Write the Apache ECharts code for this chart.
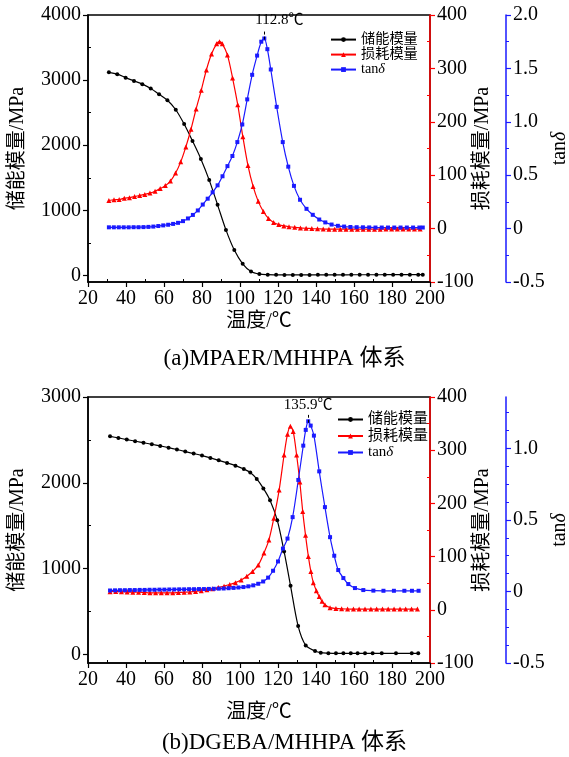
<!DOCTYPE html>
<html>
<head>
<meta charset="utf-8">
<script src="https://cdn.jsdelivr.net/npm/echarts@6/dist/echarts.min.js"></script>
<style>
  html, body { margin: 0; padding: 0; background: #fff; }
  #chart { width: 569px; height: 757px; }
</style>
</head>
<body>
<div id="chart"></div>
<script>
  // ---- (a) MPAER/MHHPA ----
  var tempA_storage = [31, 35.4, 39.8, 44.2, 48.6, 53, 57.4, 61.8, 66.2, 70.6, 75, 79.4, 83.8, 88.2, 92.6, 97, 101.4, 105.8, 110.2, 114.6, 119, 123.4, 127.8, 132.2, 136.6, 141, 145.4, 149.8, 154.2, 158.6, 163, 167.4, 171.8, 176.2, 180.6, 185, 189.4, 193.8, 196.2]
  var storageA = [3120, 3092, 3038, 2988, 2938, 2870, 2783, 2690, 2545, 2325, 2065, 1790, 1465, 1085, 700, 390, 180, 62, 22, 12, 10, 9, 9, 9, 9, 10, 10, 10, 10, 11, 11, 11, 11, 12, 12, 12, 12, 12, 12]

  var tempA_loss = [31, 33.7, 36.4, 39.1, 41.8, 44.5, 47.2, 49.9, 52.6, 55.3, 58, 60.7, 63.4, 66.1, 68.8, 71.5, 74.2, 76.9, 79.6, 82.3, 85, 87.7, 89.2, 90.7, 93.4, 96.1, 98.8, 101.5, 104.2, 106.9, 109.6, 112.3, 115, 117.7, 120.4, 123.1, 125.8, 128.8, 131.8, 134.8, 137.8, 140.8, 143.8, 146.8, 149.8, 152.8, 155.8, 158.8, 161.8, 164.8, 167.8, 170.8, 173.8, 176.8, 179.8, 182.8, 185.8, 188.8, 191.8, 194.8]
  var lossA = [52.6, 54, 54.5, 57, 58, 60, 62, 64, 66.5, 70, 75, 80.5, 89, 104, 125, 153, 186, 224, 259, 297, 327, 346, 350, 346, 325, 282, 232, 172, 118, 79, 51, 32, 19, 11.5, 7.5, 5, 3.5, 2.3, 1.3, 0.6, 0, -0.5, -0.8, -1, -1, -1, -1, -1, -1, -1, -1, -1, -1, -0.8, -0.8, -0.8, -0.8, -0.8, -0.8, -0.8]

  var tempA_tan = [31, 33.6, 36.2, 38.8, 41.4, 44, 46.6, 49.2, 51.8, 54.4, 57, 59.6, 62.2, 64.8, 67.4, 70, 72.6, 75.2, 77.8, 80.4, 83, 85.6, 88.2, 90.8, 93.4, 96, 98.6, 101.2, 103.8, 106.4, 109, 111.2, 112.8, 114.4, 116.2, 119.3, 122.5, 125.4, 128.4, 131.6, 135, 138.3, 141.7, 144.9, 148.2, 151.5, 154.8, 158.1, 161.4, 164.7, 168, 171.3, 174.6, 177.9, 181.2, 184.5, 187.8, 191.1, 194.4, 196.2]
  var tanA = [0.012, 0.012, 0.012, 0.012, 0.012, 0.013, 0.013, 0.014, 0.016, 0.019, 0.024, 0.03, 0.036, 0.044, 0.054, 0.07, 0.095, 0.128, 0.17, 0.225, 0.28, 0.34, 0.405, 0.49, 0.585, 0.68, 0.81, 0.975, 1.21, 1.44, 1.62, 1.75, 1.78, 1.68, 1.49, 1.14, 0.81, 0.58, 0.40, 0.27, 0.185, 0.129, 0.085, 0.058, 0.038, 0.026, 0.019, 0.015, 0.013, 0.012, 0.011, 0.01, 0.01, 0.01, 0.01, 0.01, 0.01, 0.01, 0.01, 0.01]

  // ---- (b) DGEBA/MHHPA ----
  var tempB_storage = [31.6, 36, 40.4, 44.8, 49.2, 53.6, 58, 62.4, 66.8, 71.2, 75.6, 80, 84.4, 88.8, 93.2, 97.6, 102, 105.4, 108.8, 112.3, 115.8, 119.6, 123.2, 126.6, 130.6, 134.6, 139.5, 142.5, 146.5, 150.5, 154.4, 158.3, 161.9, 165.8, 169.8, 174.6, 182.1, 190.4, 193.8]
  var storageB = [2542, 2523, 2504, 2484, 2467, 2449, 2430, 2410, 2388, 2364, 2341, 2317, 2290, 2262, 2232, 2200, 2160, 2120, 2045, 1935, 1797, 1565, 1200, 800, 330, 105, 40, 20, 15, 13, 13, 13, 13, 13, 13, 13, 13, 13, 13]

  var tempB_loss = [31.6, 34.6, 37.6, 40.6, 43.6, 46.6, 49.6, 52.6, 55.6, 58.6, 61.6, 64.6, 67.6, 70.6, 73.6, 76.6, 79.6, 82.6, 85.6, 88.6, 91.6, 94.6, 97.6, 100.6, 103.6, 106.6, 109.6, 112.6, 115.2, 117.8, 120.6, 123.2, 125, 126.5, 128, 129.8, 131.5, 133, 134.5, 136, 137.3, 138.6, 140.2, 141.7, 143.2, 144.7, 147.4, 150.5, 153.5, 156.6, 159.7, 162.7, 165.8, 168.9, 171.9, 175, 178, 181.1, 184.2, 187.2, 190.3, 193.4]
  var lossB = [34, 34.5, 34, 33.5, 33, 33, 32.5, 32, 32, 32, 32, 32, 32.5, 33, 33.5, 34.5, 36, 37.5, 39.5, 42, 44.5, 47.5, 51, 56, 63, 72, 84, 107, 131, 172, 225, 291, 330, 345, 335, 291, 240, 185, 140, 100, 72, 51, 36, 25, 16, 9.5, 4, 2.5, 1.8, 1.5, 1.3, 1.3, 1.3, 1.3, 1.3, 1.3, 1.3, 1.3, 1.3, 1.3, 1.3, 1.3]

  var tempB_tan = [31.6, 34.2, 36.8, 39.4, 42, 44.6, 47.2, 49.8, 52.4, 55, 57.6, 60.2, 62.8, 65.4, 68, 70.6, 73.2, 75.8, 78.4, 81, 83.6, 86.2, 88.8, 91.4, 94, 96.6, 99.2, 101.8, 104.4, 107, 109.6, 112.2, 114.8, 117.4, 120, 122.6, 125, 127.7, 130.7, 133.3, 134.6, 135.9, 137.2, 138.9, 141.7, 144.7, 147.4, 149.6, 151.7, 154.4, 157, 160.5, 164.9, 170.2, 175.5, 181, 186.5, 190.5, 194]
  var tanB = [0.007, 0.008, 0.009, 0.009, 0.01, 0.01, 0.011, 0.011, 0.012, 0.012, 0.013, 0.013, 0.014, 0.014, 0.015, 0.015, 0.016, 0.016, 0.017, 0.017, 0.018, 0.019, 0.02, 0.021, 0.023, 0.025, 0.028, 0.031, 0.036, 0.043, 0.054, 0.07, 0.097, 0.145, 0.21, 0.30, 0.37, 0.52, 0.78, 1.02, 1.13, 1.19, 1.16, 1.09, 0.84, 0.59, 0.38, 0.25, 0.15, 0.094, 0.052, 0.024, 0.01, 0.006, 0.005, 0.005, 0.005, 0.005, 0.005]

  // ticks
  var xMinor = [30, 50, 70, 90, 110, 130, 150, 170, 190]
  var leftTicksA = [0, 1000, 2000, 3000, 4000]
  var leftMinorA = [500, 1500, 2500, 3500]
  var leftTicksB = [0, 1000, 2000, 3000]
  var leftMinorB = [500, 1500, 2500]
  var redTicks = [-100, 0, 100, 200, 300, 400]
  var redMinor = [-50, 50, 150, 250, 350]
  var tanTicksA = [-0.5, 0, 0.5, 1.0, 1.5, 2.0]
  var tanMinorA = [-0.25, 0.25, 0.75, 1.25, 1.75]
  var tanTicksB = [-0.5, 0, 0.5, 1.0]
  var tanMinorB = [-0.375, -0.25, -0.125, 0.125, 0.25, 0.375, 0.625, 0.75, 0.875, 1.125, 1.25]

  var names = ['储能模量', '损耗模量', 'tanδ']
  var peakA = 112.8
  var peakB = 135.9

  var SERIF = '"Liberation Serif", "Noto Sans CJK SC", serif'
  var RED = '#ff0000'
  var BLUE = '#1a1aff'
  var TICK_FONT = 20
  var NAME_FONT = 20

  function pairs(t, v) {
    return t.map(function (x, i) { return [x, v[i]] })
  }
  function fmtTan(v) {
    return v === 0 ? '0' : v.toFixed(1)
  }

  // main axis + a twin that only carries the short minor ticks
  function yPair(grid, o) {
    var main = {
      type: 'value', gridIndex: grid, position: o.pos, offset: o.offset || 0,
      min: o.min, max: o.max,
      splitLine: { show: false },
      axisLine: { show: true, onZero: false, lineStyle: { color: o.color, width: 1.5 } },
      axisTick: { show: true, length: 5, customValues: o.ticks, lineStyle: { color: o.color, width: 1.2 } },
      axisLabel: { customValues: o.ticks, color: '#000', fontSize: TICK_FONT, fontFamily: SERIF, margin: 7, formatter: o.fmt || function (v) { return String(v) } },
      name: o.name, nameLocation: 'middle', nameGap: o.gap, nameMoveOverlap: false,
      nameTextStyle: { color: '#000', fontSize: NAME_FONT, fontFamily: SERIF, rich: o.rich }
    }
    var minor = {
      type: 'value', gridIndex: grid, position: o.pos, offset: o.offset || 0,
      min: o.min, max: o.max,
      splitLine: { show: false },
      axisLine: { show: false, onZero: false },
      axisTick: { show: true, inside: o.minorInside, length: 3, customValues: o.minor, lineStyle: { color: o.color, width: 1 } },
      axisLabel: { show: false }
    }
    return [main, minor]
  }
  function xPair(grid, gap) {
    return [{
      type: 'value', gridIndex: grid, position: 'bottom', min: 20, max: 200, interval: 20,
      splitLine: { show: false },
      axisLine: { onZero: false, lineStyle: { color: '#000', width: 1.5 } },
      axisTick: { length: 5, lineStyle: { color: '#000', width: 1.2 } },
      axisLabel: { color: '#000', fontSize: TICK_FONT, fontFamily: SERIF, margin: 7 },
      name: '温度/℃', nameLocation: 'middle', nameGap: gap, nameMoveOverlap: false,
      nameTextStyle: { color: '#000', fontSize: NAME_FONT, fontFamily: SERIF }
    }, {
      type: 'value', gridIndex: grid, position: 'bottom', min: 20, max: 200,
      splitLine: { show: false },
      axisLine: { show: false, onZero: false },
      axisTick: { inside: true, length: 3, customValues: xMinor, lineStyle: { color: '#000', width: 1 } },
      axisLabel: { show: false }
    }]
  }

  var tanRich = { i: { fontStyle: 'italic', fontSize: NAME_FONT, fontFamily: SERIF, color: '#000' } }

  var yAxes = [].concat(
    yPair(0, { pos: 'left', min: -100, max: 4000, color: '#000', ticks: leftTicksA, minor: leftMinorA, minorInside: true, name: '储能模量/MPa', gap: 60 }),
    yPair(0, { pos: 'right', min: -100, max: 400, color: RED, ticks: redTicks, minor: redMinor, minorInside: true, name: '损耗模量/MPa', gap: 43 }),
    yPair(0, { pos: 'right', offset: 76, min: -0.5, max: 2.0, color: BLUE, ticks: tanTicksA, minor: tanMinorA, minorInside: false, fmt: fmtTan, name: 'tan{i|δ}', gap: 44, rich: tanRich }),
    yPair(1, { pos: 'left', min: -100, max: 3000, color: '#000', ticks: leftTicksB, minor: leftMinorB, minorInside: true, name: '储能模量/MPa', gap: 60 }),
    yPair(1, { pos: 'right', min: -100, max: 400, color: RED, ticks: redTicks, minor: redMinor, minorInside: true, name: '损耗模量/MPa', gap: 43 }),
    yPair(1, { pos: 'right', offset: 76, min: -0.5, max: 1.36, color: BLUE, ticks: tanTicksB, minor: tanMinorB, minorInside: false, fmt: fmtTan, name: 'tan{i|δ}', gap: 44, rich: tanRich })
  )

  function line(name, xIdx, yIdx, data, color, symbol, size, extra) {
    var s = {
      name: name, type: 'line', xAxisIndex: xIdx, yAxisIndex: yIdx,
      data: data, smooth: 0.3, showAllSymbol: true,
      symbol: symbol, symbolSize: size,
      lineStyle: { color: color, width: 1.2 },
      itemStyle: { color: color }
    }
    return Object.assign(s, extra || {})
  }
  function peakMark(t, y0, y1, pad) {
    return {
      markLine: {
        silent: true, symbol: ['none', 'none'],
        lineStyle: { color: '#000', type: [3, 2], width: 1 },
        label: { show: true, position: 'end', distance: 2, formatter: t + '℃', color: '#000', fontSize: 15, fontFamily: SERIF, padding: pad },
        data: [[{ coord: [t, y0] }, { coord: [t, y1] }]]
      }
    }
  }

  function legendAt(left, top, gap, size) {
    return {
      orient: 'vertical', left: left, top: top, padding: 0,
      itemWidth: 25, itemHeight: 6, itemGap: gap,
      data: names,
      formatter: function (n) { return n === 'tanδ' ? 'tan{i|δ}' : n },
      textStyle: { color: '#000', fontSize: size, fontFamily: SERIF,
        rich: { i: { fontStyle: 'italic', fontSize: size, fontFamily: SERIF } } }
    }
  }

  var option = {
    animation: false,
    backgroundColor: '#fff',
    title: [
      { text: '(a)MPAER/MHHPA 体系', left: 'center', top: 347, padding: 0, textStyle: { color: '#000', fontSize: 23, fontWeight: 'normal', fontFamily: SERIF } },
      { text: '(b)DGEBA/MHHPA 体系', left: 'center', top: 731, padding: 0, textStyle: { color: '#000', fontSize: 23, fontWeight: 'normal', fontFamily: SERIF } }
    ],
    legend: [legendAt(330, 32.5, 0.8, 14.2), legendAt(337, 412, 1.5, 15)],
    grid: [
      { left: 88, top: 15, width: 342, height: 267, outerBoundsMode: 'none', show: true, borderColor: '#000', borderWidth: 1.5 },
      { left: 88, top: 397, width: 342, height: 266, outerBoundsMode: 'none', show: true, borderColor: '#000', borderWidth: 1.5 }
    ],
    xAxis: [].concat(xPair(0, 30), xPair(1, 40)),
    yAxis: yAxes,
    series: [
      line(names[0], 0, 0, pairs(tempA_storage, storageA), '#000', 'circle', 4),
      line(names[1], 0, 2, pairs(tempA_loss, lossA), RED, 'triangle', 5),
      line(names[2], 0, 4, pairs(tempA_tan, tanA), BLUE, 'rect', 4, peakMark(peakA, 1.77, 1.86, [0, 0, 0, 30])),
      line(names[0], 2, 6, pairs(tempB_storage, storageB), '#000', 'circle', 4),
      line(names[1], 2, 8, pairs(tempB_loss, lossB), RED, 'triangle', 5),
      line(names[2], 2, 10, pairs(tempB_tan, tanB), BLUE, 'rect', 4, peakMark(peakB, 1.18, 1.235, 0))
    ]
  }

  var chart = echarts.init(document.getElementById('chart'))
  chart.setOption(option)
</script>
</body>
</html>
